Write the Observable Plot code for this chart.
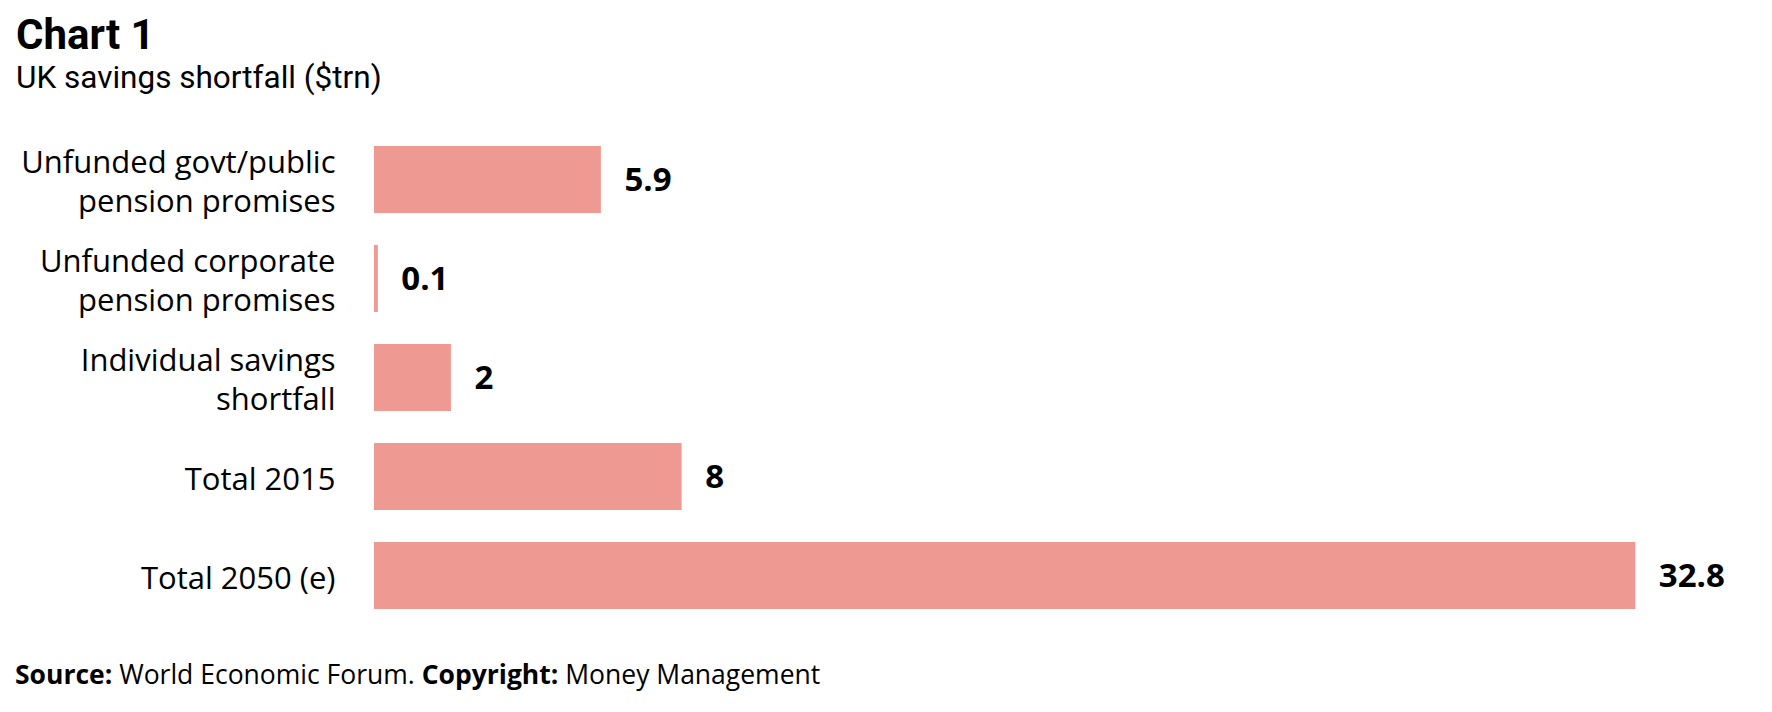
<!DOCTYPE html>
<html>
<head>
<meta charset="utf-8">
<script src="https://cdn.jsdelivr.net/npm/d3@7"></script>
<script src="https://cdn.jsdelivr.net/npm/@observablehq/plot@0.6"></script>
<style>
  html, body { margin: 0; padding: 0; background: #fff; }
  body { width: 1772px; height: 712px; position: relative; overflow: hidden; font-family: "Open Sans", sans-serif; color: #000; }
  .abs { position: absolute; white-space: nowrap; }
  #title { left: 16px; top: 13.6px; font-family: Roboto, sans-serif; font-size: 42px; line-height: 42px; font-weight: 700; }
  #subtitle { left: 16px; top: 62px; font-family: Roboto, sans-serif; font-size: 31.5px; line-height: 31.5px; font-weight: 400; }
  #chart { left: 0; top: 100px; }
  #footer { left: 15px; top: 660.5px; font-size: 26.5px; line-height: 26.5px; }
  #footer b { font-weight: 700; }
</style>
</head>
<body>
<div id="title" class="abs">Chart 1</div>
<div id="subtitle" class="abs">UK savings shortfall ($trn)</div>
<div id="chart" class="abs"></div>
<div id="footer" class="abs"><b>Source:</b> World Economic Forum. <b>Copyright:</b> Money Management</div>
<script>
const categories = [
  "Unfunded govt/public\npension promises",
  "Unfunded corporate\npension promises",
  "Individual savings\nshortfall",
  "Total 2015",
  "Total 2050 (e)"
];
const values = [5.9, 0.1, 2, 8, 32.8];
const valueLabels = ["5.9", "0.1", "2", "8", "32.8"];

const data = categories.map((c, i) => ({category: c, value: values[i], label: valueLabels[i]}));

const chart = Plot.plot({
  width: 1772,
  height: 560,
  marginLeft: 374,
  marginRight: 136.7,
  marginTop: 12.6,
  marginBottom: 17,
  style: {fontFamily: "Open Sans, sans-serif", color: "#000", background: "#fff"},
  x: {domain: [0, 32.8], axis: null},
  y: {domain: categories, padding: 0.325, label: null},
  marks: [
    Plot.barX(data, {x: "value", y: "category", fill: "#ee9a92"}),
    Plot.axisY({tickSize: 0, tickPadding: 39, fontSize: 31, lineHeight: 1.27, label: null, fill: "#000"}),
    Plot.text(data, {x: "value", y: "category", text: "label", dx: 23, textAnchor: "start", fontSize: 33, fontWeight: 700, fill: "#000"})
  ]
});
document.getElementById("chart").appendChild(chart);
</script>
</body>
</html>
